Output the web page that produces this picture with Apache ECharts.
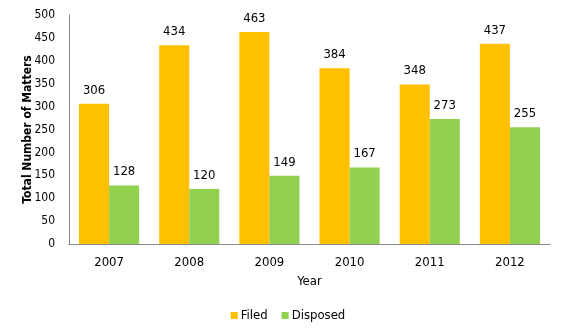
<!DOCTYPE html>
<html>
<head>
<meta charset="utf-8">
<script src="https://cdn.jsdelivr.net/npm/echarts@6/dist/echarts.min.js"></script>
<style>
  html, body { margin: 0; padding: 0; background: #fff; }
  #chart { width: 576px; height: 336px; }
</style>
</head>
<body>
<div id="chart"></div>
<script>
// Matters filed and disposed per year
const years = ['2007', '2008', '2009', '2010', '2011', '2012'];
const filed = [306, 434, 463, 384, 348, 437];
const disposed = [128, 120, 149, 167, 273, 255];
const yTicks = { min: 0, max: 500, interval: 50 };

const font = '"DejaVu Sans Condensed", "DejaVu Sans", sans-serif';
const chart = echarts.init(document.getElementById('chart'));

const labelStyle = {
  show: true,
  position: 'top',
  distance: 7,
  color: '#000',
  fontFamily: font,
  fontSize: 13
};

chart.setOption({
  animation: false,
  textStyle: { fontFamily: font },
  grid: { left: 69, right: 26, top: 15, bottom: 92, containLabel: false },
  legend: {
    bottom: 9,
    left: 'center',
    itemWidth: 7,
    itemHeight: 7,
    itemGap: 14,
    icon: 'rect',
    textStyle: { fontFamily: font, fontSize: 13, color: '#000', padding: [0, 0, 0, -2] },
    data: ['Filed', 'Disposed']
  },
  xAxis: {
    type: 'category',
    data: years,
    name: 'Year',
    nameLocation: 'middle',
    nameGap: 31,
    nameMoveOverlap: false,
    nameTextStyle: { fontFamily: font, fontSize: 13, color: '#000' },
    axisLine: { lineStyle: { color: '#888', width: 1 } },
    axisTick: { show: false },
    axisLabel: { color: '#000', fontSize: 13, margin: 12, fontFamily: font }
  },
  yAxis: {
    type: 'value',
    min: yTicks.min,
    max: yTicks.max,
    interval: yTicks.interval,
    name: 'Total Number of Matters',
    nameLocation: 'middle',
    nameGap: 35,
    nameMoveOverlap: false,
    nameTextStyle: { fontFamily: font, fontSize: 12, fontWeight: 'bold', color: '#000' },
    axisLine: { show: true, lineStyle: { color: '#888', width: 1 } },
    axisTick: { show: false },
    splitLine: { show: false },
    axisLabel: { color: '#000', fontSize: 12, margin: 14, fontFamily: font }
  },
  series: [
    {
      name: 'Filed',
      type: 'bar',
      data: filed,
      barGap: '0%',
      barCategoryGap: '25%',
      itemStyle: { color: '#FFC000' },
      label: labelStyle
    },
    {
      name: 'Disposed',
      type: 'bar',
      data: disposed,
      itemStyle: { color: '#92D050' },
      label: labelStyle
    }
  ]
});
</script>
</body>
</html>
